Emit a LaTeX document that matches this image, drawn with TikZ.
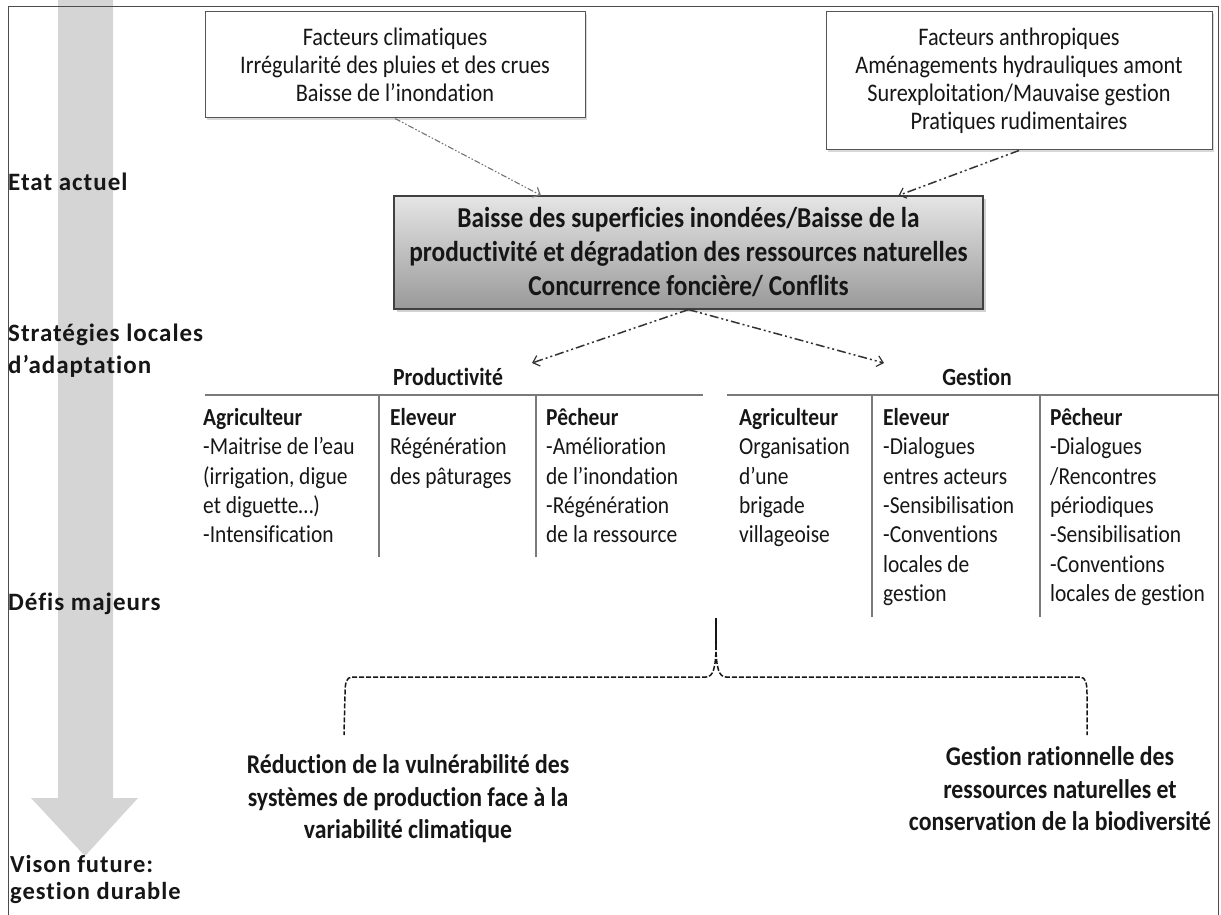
\documentclass[tikz,border=0pt]{standalone}
\usepackage{fontspec}
\setmainfont{Carlito}[Ligatures=NoCommon,FakeStretch=0.88]
\newfontfamily\labfont{Carlito}[LetterSpace=4,Ligatures=NoCommon]
\usetikzlibrary{arrows.meta,shadows,calc}
\definecolor{ink}{HTML}{161616}
\definecolor{rulegray}{HTML}{7A7A7A}
\definecolor{arrowgray}{HTML}{D5D5D5}
\definecolor{boxline}{HTML}{555555}
\begin{document}
\begin{tikzpicture}[x=1pt,y=-1pt,
  lab/.style={inner sep=0pt, anchor=west, align=left, text=ink,
    font=\labfont\bfseries\fontsize{25}{32}\selectfont},
  topbox/.style={draw=boxline, line width=1pt, fill=white, align=center, text=ink,
    inner sep=0pt, font=\fontsize{25.3}{28}\selectfont,
    drop shadow={shadow xshift=2pt, shadow yshift=-2pt, fill=black!30}},
  centerbox/.style={draw=black!75, line width=1.2pt, top color=black!10, bottom color=black!40,
    align=center, text=ink, inner sep=0pt, minimum width=589pt, minimum height=113pt,
    font=\bfseries\fontsize{28.8}{34}\selectfont,
    drop shadow={shadow xshift=2.5pt, shadow yshift=-2.5pt, fill=black!35}},
  head/.style={inner sep=0pt, text=ink, font=\bfseries\fontsize{24.7}{26}\selectfont},
  col/.style={inner sep=0pt, anchor=north west, align=left, text=ink,
    font=\fontsize{24.4}{29.4}\selectfont},
  bottomtxt/.style={inner sep=0pt, align=center, text=ink,
    font=\bfseries\fontsize{27}{32.5}\selectfont},
  tablerule/.style={draw=rulegray, line width=1.4pt},
  tipstyle/.style={-{Straight Barb[length=6pt,width=11pt,line width=1.2pt]}},
  connlight/.style={tipstyle, draw=black!55, line width=1.1pt,
    dash pattern=on 6pt off 2pt on 1.5pt off 2pt on 1.5pt off 2pt},
  conndark/.style={tipstyle, draw=black!80, line width=1.5pt,
    dash pattern=on 9pt off 3pt on 2pt off 3pt on 2pt off 3pt},
  bracestyle/.style={draw=ink, line width=1.5pt, dash pattern=on 5pt off 2pt}
]
\useasboundingbox (0,0) rectangle (1221,915);

% big gray time arrow
\fill[arrowgray] (58,0) -- (113,0) -- (113,798) -- (138,798) -- (85,856) -- (31,798) -- (58,798) -- cycle;

% frame
\draw[black!70, line width=1pt] (8,915) -- (8,7) -- (1218,7) -- (1218,915);

% left labels
\node[lab] (etat) at (8,182) {Etat actuel};
\node[lab] (strat) at (8,351) {Stratégies locales\\d’adaptation};
\node[lab] (defis) at (8,604) {Défis majeurs};
\node[lab, font=\labfont\bfseries\fontsize{24.5}{27}\selectfont] (vision) at (10,879) {Vison future:\\gestion durable};

% top boxes
\node[topbox, minimum width=380pt, minimum height=106pt] (clim) at (395,65)
  {Facteurs climatiques\\Irrégularité des pluies et des crues\\Baisse de l’inondation};
\node[topbox, minimum width=386pt, minimum height=138pt] (anth) at (1019,81)
  {Facteurs anthropiques\\Aménagements hydrauliques amont\\Surexploitation/Mauvaise gestion\\Pratiques rudimentaires};

% central box
\node[centerbox] (central) at (688.5,252.5)
  {Baisse des superficies inondées/Baisse de la\\productivité et dégradation des ressources naturelles\\Concurrence foncière/ Conflits};

% connectors into central box
\coordinate (climend) at ($(central.north west)!0.25!(central.north east)$);
\coordinate (anthend) at ($(central.north west)!0.856!(central.north east)$);
\draw[connlight] (clim.south) -- (climend);
\draw[conndark] (anth.south) -- (anthend);

% connectors out of central box
\coordinate (prodend) at (532,363);
\coordinate (gestend) at (884,363);
\draw[conndark] (central.south) -- (prodend);
\draw[conndark] (central.south) -- (gestend);

% headings
\node[head] (prod) at (448,377) {Productivité};
\node[head] (gest) at (977,377) {Gestion};

% table rules
\draw[tablerule] (205,395) -- (703,395);
\draw[tablerule] (727,395) -- (1218,395);
\draw[tablerule] (379,395) -- (379,557);
\draw[tablerule] (536,395) -- (536,557);
\draw[tablerule] (872,395) -- (872,617);
\draw[tablerule] (1040,395) -- (1040,617);

% productivity columns
\node[col] (pagri) at (203,408) {\textbf{Agriculteur}\\-Maitrise de l’eau\\(irrigation, digue\\et diguette…)\\-Intensification};
\node[col] (pelev) at (390,408) {\textbf{Eleveur}\\Régénération\\des pâturages};
\node[col] (ppech) at (546,408) {\textbf{Pêcheur}\\-Amélioration\\de l’inondation\\-Régénération\\de la ressource};

% gestion columns
\node[col] (gagri) at (739,408) {\textbf{Agriculteur}\\Organisation\\d’une\\brigade\\villageoise};
\node[col] (gelev) at (883,408) {\textbf{Eleveur}\\-Dialogues\\entres acteurs\\-Sensibilisation\\-Conventions\\locales de\\gestion};
\node[col] (gpech) at (1050,408) {\textbf{Pêcheur}\\-Dialogues\\/Rencontres\\périodiques\\-Sensibilisation\\-Conventions\\locales de gestion};

% brace
\coordinate (btop) at (716,618);
\coordinate (btip) at (716,645);
\coordinate (lfoot) at (344,735);
\coordinate (rfoot) at (1087,735);
\draw[draw=ink, line width=1.5pt] (btop) -- (btip);
\draw[bracestyle] (btip) .. controls (716,668) and (713,677) .. (706,677) -- (352,677)
  .. controls (346,677) and (345,684) .. (345,694) -- (lfoot);
\draw[bracestyle] (btip) .. controls (716,668) and (719,677) .. (726,677) -- (1080,677)
  .. controls (1086,677) and (1087,684) .. (1087,694) -- (rfoot);

% bottom goals
\node[bottomtxt] (reduc) at (408,799) {Réduction de la vulnérabilité des\\systèmes de production face à la\\variabilité climatique};
\node[bottomtxt] (gestrat) at (1060,789) {Gestion rationnelle des\\ressources naturelles et\\conservation de la biodiversité};
\end{tikzpicture}
\end{document}
